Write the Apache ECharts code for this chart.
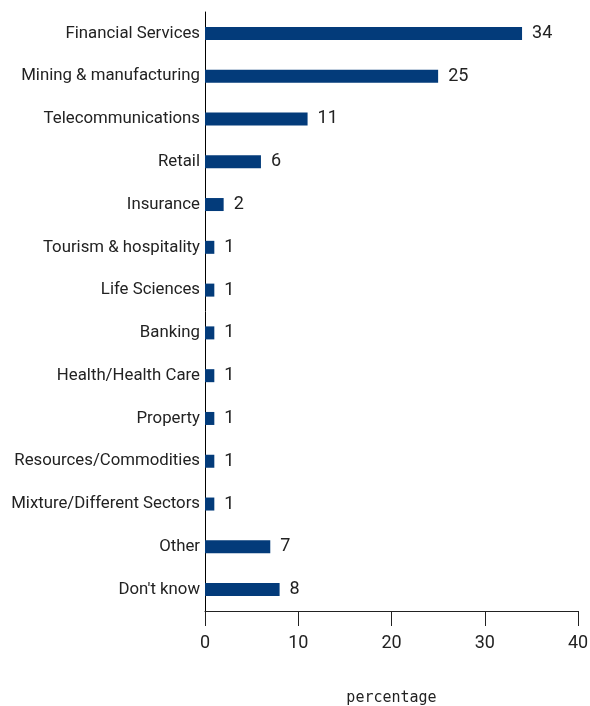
<!DOCTYPE html>
<html><head><meta charset="utf-8">
<script src="https://cdn.jsdelivr.net/npm/echarts@6/dist/echarts.min.js"></script>
<style>html,body{margin:0;padding:0;background:#fff}#c{width:590px;height:706px}</style>
</head><body><div id="c"></div>
<script>
const categories = ["Financial Services","Mining & manufacturing","Telecommunications","Retail","Insurance","Tourism & hospitality","Life Sciences","Banking","Health/Health Care","Property","Resources/Commodities","Mixture/Different Sectors","Other","Don't know"];
const values = [34,25,11,6,2,1,1,1,1,1,1,1,7,8];
const xTicks = [0,10,20,30,40];
const axisName = "percentage";

const chart = echarts.init(document.getElementById('c'), null, {renderer:'canvas'});
chart.setOption({
  animation:false,
  backgroundColor:'#fff',
  grid:{left:205,right:12,top:12,bottom:95,containLabel:false,outerBoundsMode:'none'},
  xAxis:{type:'value',min:xTicks[0],max:xTicks[xTicks.length-1],interval:10,
    axisLine:{show:true,lineStyle:{color:'#222',width:1}},
    axisTick:{show:true,length:15,inside:false,lineStyle:{color:'#222'}},
    axisLabel:{margin:23,fontSize:18,color:'#222',fontFamily:'Roboto'},
    splitLine:{show:false},
    name:axisName,nameLocation:'middle',nameGap:80,
    nameTextStyle:{fontSize:15,color:'#222',fontFamily:'DejaVu Sans Mono'}
  },
  yAxis:{type:'category',data:categories,inverse:true,
    axisLine:{show:true,lineStyle:{color:'#000',width:1}},
    axisTick:{show:false},
    axisLabel:{margin:5,fontSize:16.8,color:'#222',fontFamily:'Roboto'}
  },
  series:[{type:'bar',data:values,barWidth:13,itemStyle:{color:'#033b7a'},
    label:{show:true,position:'right',distance:10,fontSize:18,color:'#222',fontFamily:'Roboto'}}]
});
</script></body></html>
